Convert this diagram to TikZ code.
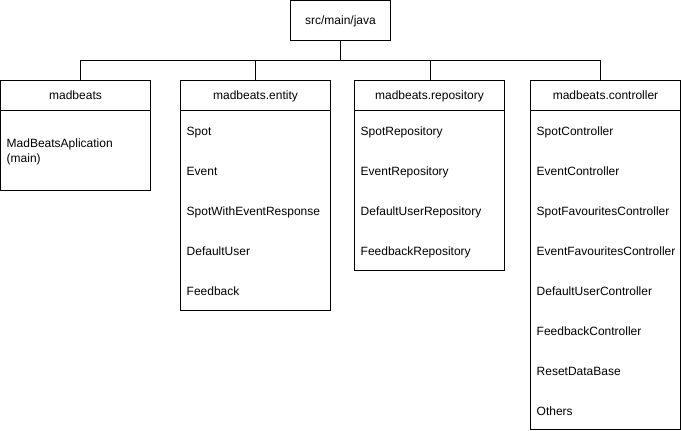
\documentclass[tikz,border=0pt]{standalone}
\usepackage{fontspec}
\setmainfont{Liberation Sans}
\usetikzlibrary{positioning}
\newcommand{\txt}{\fontsize{12}{15}\selectfont}
\tikzset{
  dir/.style={draw,line width=1pt,minimum width=100pt,minimum height=40pt,inner sep=0pt,outer sep=0pt,
    text height=8.6pt,text depth=0pt,font=\txt},
  pkg/.style={draw,line width=1pt,minimum width=150pt,minimum height=30pt,inner sep=0pt,outer sep=0pt,
    text height=8.6pt,text depth=0pt,anchor=north west,font=\txt},
  body/.style={draw,line width=1pt,minimum width=150pt,inner sep=0pt,outer sep=0pt,anchor=north west},
  item/.style={anchor=base west,inner sep=0pt,align=left,font=\txt},
  link/.style={line width=1pt}
}
\begin{document}
\begin{tikzpicture}[x=1pt,y=-1pt]
\useasboundingbox (0,0) rectangle (681,431);
% root folder
\node[dir] (root) at (340.5,20.5) {src/main/java};
\coordinate (bus) at (340.5,60.5);

% packages
\node[pkg] (mb) at (0.5,80.5) {madbeats};
\node[body,minimum height=80pt] (mbList) at (mb.south west) {};
\node[item,anchor=west] (mbMain) at ([xshift=6pt,yshift=-1pt]mbList.west) {MadBeatsAplication\\(main)};

\node[pkg] (ent) at (180.5,80.5) {madbeats.entity};
\node[body,minimum height=200pt] (entList) at (ent.south west) {};
\foreach \t [count=\i] in {Spot,Event,SpotWithEventResponse,DefaultUser,Feedback}
  \node[item] (ent\i) at (186.5,95+40*\i) {\t};

\node[pkg] (rep) at (354.5,80.5) {madbeats.repository};
\node[body,minimum height=160pt] (repList) at (rep.south west) {};
\foreach \t [count=\i] in {SpotRepository,EventRepository,DefaultUserRepository,FeedbackRepository}
  \node[item] (rep\i) at (360.5,95+40*\i) {\t};

\node[pkg] (ctl) at (530.5,80.5) {madbeats.controller};
\node[body,minimum height=319pt] (ctlList) at (ctl.south west) {};
\foreach \t [count=\i] in {SpotController,EventController,SpotFavouritesController,EventFavouritesController,DefaultUserController,FeedbackController,ResetDataBase,Others}
  \node[item] (ctl\i) at (536.5,95+40*\i) {\t};

% tree lines
\draw[link] (root.south) -- (bus);
\draw[link] (bus) -| ([xshift=5pt]mb.north);
\draw[link] (bus) -| (ent.north);
\draw[link] (bus) -| ([xshift=1pt]rep.north);
\draw[link] (bus) -| ([xshift=-5pt]ctl.north);
\end{tikzpicture}
\end{document}
